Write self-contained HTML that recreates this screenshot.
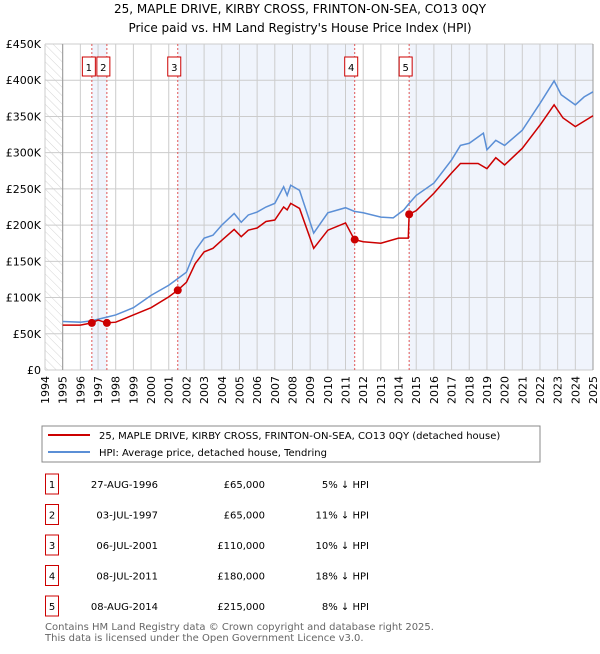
<!DOCTYPE html>
<html><head><meta charset="utf-8"><style>
body{margin:0;background:#fff;font-family:"DejaVu Sans","Liberation Sans",sans-serif;}
svg text{font-family:"DejaVu Sans","Liberation Sans",sans-serif;}
</style></head><body>
<svg id="c" width="600" height="650" xmlns="http://www.w3.org/2000/svg">
<defs><pattern id="hatch" width="6" height="6" patternUnits="userSpaceOnUse" patternTransform="rotate(-45)"><line x1="0" y1="0" x2="0" y2="6" stroke="#d4d4d4" stroke-width="1"/></pattern></defs>
<text x="300" y="13" text-anchor="middle" font-size="12">25, MAPLE DRIVE, KIRBY CROSS, FRINTON-ON-SEA, CO13 0QY</text>
<text x="300" y="32" text-anchor="middle" font-size="12">Price paid vs. HM Land Registry's House Price Index (HPI)</text>
<g id="plot"></g>
<rect x="42" y="426" width="498" height="36" fill="#fff" stroke="#888"/>
<line x1="48" y1="435" x2="90" y2="435" stroke="#cc0000" stroke-width="2"/>
<text x="99" y="439" font-size="10">25, MAPLE DRIVE, KIRBY CROSS, FRINTON-ON-SEA, CO13 0QY (detached house)</text>
<line x1="48" y1="452" x2="90" y2="452" stroke="#5b8fd6" stroke-width="2"/>
<text x="99" y="456" font-size="10">HPI: Average price, detached house, Tendring</text>
<g id="tbl"></g>
<text x="45" y="630" font-size="10" fill="#666">Contains HM Land Registry data © Crown copyright and database right 2025.</text>
<text x="45" y="641" font-size="10" fill="#666">This data is licensed under the Open Government Licence v3.0.</text>
</svg>
<script>
const hpiYears=[1995,1996,1996.65,1997,1997.5,1998,1999,2000,2001,2001.5,2002,2002.5,2003,2003.5,2004,2004.7,2005.1,2005.5,2006,2006.5,2007,2007.5,2007.7,2007.9,2008.4,2009.2,2010,2011,2011.5,2012,2013,2013.7,2014.3,2014.6,2015,2016,2017,2017.5,2018,2018.8,2019,2019.5,2020,2021,2022,2022.8,2023.2,2024,2024.5,2025];
const hpiValues=[67,66,68,70,73,76,86,103,117,126,135,165,182,186,200,216,204,214,218,225,230,253,241,255,248,189,217,224,219,217,211,210,221,230,241,258,290,310,313,327,304,317,310,331,368,399,380,366,377,384];
const priceYears=[1995,1996,1996.65,1997,1997.5,1998,1999,2000,2001,2001.5,2002,2002.5,2003,2003.5,2004,2004.7,2005.1,2005.5,2006,2006.5,2007,2007.5,2007.7,2007.9,2008.4,2009.2,2010,2011,2011.5,2012,2013,2014,2014.55,2014.6,2015,2016,2017,2017.5,2018.5,2019,2019.5,2020,2021,2022,2022.8,2023.3,2024,2025];
const priceValues=[62,62,65,69,65,66,76,86,101,110,121,147,163,168,179,194,184,193,196,205,207,225,221,230,223,168,193,203,180,177,175,182,182,215,220,244,272,285,285,278,293,283,306,338,366,348,336,351];
const saleYears=[1996.65,1997.5,2001.51,2011.52,2014.6];
const saleValues=[65,65,110,180,215];
const saleLabels=["1","2","3","4","5"];
const saleDates=["27-AUG-1996","03-JUL-1997","06-JUL-2001","08-JUL-2011","08-AUG-2014"];
const salePrices=["£65,000","£65,000","£110,000","£180,000","£215,000"];
const salePct=["5% ↓ HPI","11% ↓ HPI","10% ↓ HPI","18% ↓ HPI","8% ↓ HPI"];
const yTicks=[0,50,100,150,200,250,300,350,400,450];
const yTickLabels=["£0","£50K","£100K","£150K","£200K","£250K","£300K","£350K","£400K","£450K"];
const xTicks=[1994,1995,1996,1997,1998,1999,2000,2001,2002,2003,2004,2005,2006,2007,2008,2009,2010,2011,2012,2013,2014,2015,2016,2017,2018,2019,2020,2021,2022,2023,2024,2025];

const X0=45,X1=593,Y0=370,Y1=44;
const x=v=>X0+(v-1994)/(2025-1994)*(X1-X0);
const y=v=>Y0-v/450*(Y0-Y1);
const NS="http://www.w3.org/2000/svg";
const plot=document.getElementById('plot');
function mk(tag,attrs,parent){const e=document.createElementNS(NS,tag);for(const k in attrs)e.setAttribute(k,attrs[k]);(parent||plot).appendChild(e);return e;}

let bg=mk('rect',{x:X0,y:Y1,width:X1-X0,height:Y0-Y1,fill:'#fff'});


const bounds=saleYears.concat([2025]);
for(let i=0;i<bounds.length-1;i+=2){
  const r=mk('rect',{x:x(bounds[i]),y:Y1,width:x(bounds[i+1])-x(bounds[i]),height:Y0-Y1,fill:'#f0f4fc'});
  
  
}
const h=mk('rect',{x:X0,y:Y1,width:x(1995)-X0,height:Y0-Y1,fill:'url(#hatch)'});


yTicks.forEach((t,i)=>{
  const l=mk('line',{x1:X0,x2:X1,y1:y(t),y2:y(t),stroke:'#ccc'});
  
  
  const tx=mk('text',{x:X0-4,y:y(t)+4,'text-anchor':'end','font-size':11});
  tx.textContent=yTickLabels[i];
  
  
});
xTicks.forEach(t=>{
  const l=mk('line',{x1:x(t),x2:x(t),y1:Y1,y2:Y0,stroke:'#ccc'});
  
  
  const tx=mk('text',{x:0,y:0,'text-anchor':'end','font-size':11,transform:`translate(${x(t)+4},${Y0+6}) rotate(-90)`});
  tx.textContent=t;
  
  
});
const ax=mk('line',{x1:x(1995),x2:x(1995),y1:Y1,y2:Y0,stroke:'#999'});


const ax2=mk('line',{x1:X1,x2:X1,y1:Y1,y2:Y0,stroke:'#999'});


saleYears.forEach((s,i)=>{
  const l=mk('line',{x1:x(s),x2:x(s),y1:Y1,y2:Y0,stroke:'#e05555','stroke-dasharray':'2,2'});
  
  
  const off=i==0?-9.5:-10;
  const r=mk('rect',{x:x(s)+off,y:57,width:13,height:19,fill:'#fff',stroke:'#cc0000'});
  
  
  const t=mk('text',{x:x(s)+off+6.5,y:71,'text-anchor':'middle','font-size':10});
  t.textContent=saleLabels[i];
  
  
});
const hp=mk('polyline',{points:hpiYears.map((v,i)=>x(v)+','+y(hpiValues[i])).join(' '),fill:'none',stroke:'#5b8fd6','stroke-width':1.5});


const pp=mk('polyline',{points:priceYears.map((v,i)=>x(v)+','+y(priceValues[i])).join(' '),fill:'none',stroke:'#cc0000','stroke-width':1.5});


saleYears.forEach((s,i)=>{
  const c=mk('circle',{cx:x(s),cy:y(saleValues[i]),r:4,fill:'#cc0000'});
  
  
});
const tbl=document.getElementById('tbl');
saleYears.forEach((s,i)=>{
  const cy=484+i*30.5;
  const r=mk('rect',{x:45.5,y:cy-10,width:13,height:20,fill:'#fff',stroke:'#cc0000'},tbl);
  
  
  const cells=[[52,'middle',saleLabels[i]],[158,'end',saleDates[i]],[265,'end',salePrices[i]],[369,'end',salePct[i]]];
  cells.forEach(([cx,a,txt],j)=>{
    const t=mk('text',{x:cx,y:cy+4,'text-anchor':a,'font-size':10},tbl);
    t.textContent=txt;
    
    
  });
});
</script>
</body></html>
